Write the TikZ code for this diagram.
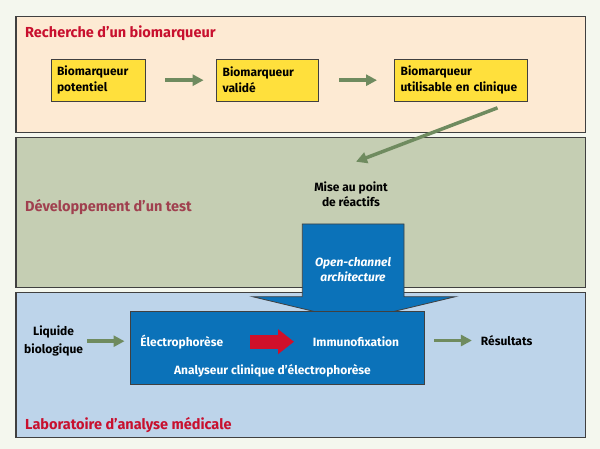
\documentclass[tikz,border=0pt]{standalone}
\usepackage{fontspec}
\setmainfont{Fira Sans}
\usetikzlibrary{arrows.meta}
\definecolor{bgc}{HTML}{F4F7EE}
\definecolor{peach}{HTML}{FDEAD3}
\definecolor{olive}{HTML}{C5CEB3}
\definecolor{lblue}{HTML}{BDD4EA}
\definecolor{ybox}{HTML}{FFE03C}
\definecolor{bblue}{HTML}{0B72B9}
\definecolor{garr}{HTML}{6F8B5F}
\definecolor{rarr}{HTML}{D0102A}
\definecolor{tred}{HTML}{C8102E}
\definecolor{tmaroon}{HTML}{A0404F}
\definecolor{bord}{HTML}{404040}
\begin{document}
\begin{tikzpicture}[x=1pt,y=-1pt,
  font=\bfseries\fontsize{12}{16}\selectfont,
  panel/.style={draw=bord, line width=1.2pt, anchor=north west, minimum width=569.7pt, inner sep=0pt},
  ptitle/.style={anchor=west, inner sep=0pt, font=\bfseries\fontsize{14.5}{16}\selectfont},
  yb/.style={draw=bord, fill=ybox, line width=1pt, minimum height=41.7pt, inner xsep=6pt, align=left},
  txt/.style={align=center, inner sep=0pt},
  wtxt/.style={txt, text=white},
  garrow/.style={draw=garr, line width=3.5pt, -{Triangle[length=11pt,width=11pt]}},
  rarrow/.style={draw=rarr, line width=14pt, -{Triangle[length=16pt,width=24pt]}}
]
\useasboundingbox[fill=bgc] (0,0) rectangle (600,449);
% panels
\node[panel, fill=peach, minimum height=116.6pt] (rech) at (15.3,15.7) {};
\node[panel, fill=olive, minimum height=150pt] (dev) at (15.3,136.7) {};
\node[panel, fill=lblue, minimum height=144.4pt] (lab) at (15.3,292.3) {};
% titles
\node[ptitle, text=tred] (t1) at (25,33.5) {Recherche d’un biomarqueur};
\node[ptitle, text=tmaroon] (t2) at (25,207) {Développement d’un test};
\node[ptitle, text=tred] (t3) at (25,425) {Laboratoire d’analyse médicale};
% yellow boxes
\node[yb, minimum width=94.4pt, text width=82.4pt] (b1) at (98.2,80.2) {Biomarqueur\\potentiel};
\node[yb, minimum width=102.2pt, text width=90.2pt] (b2) at (267.7,80.2) {Biomarqueur\\validé};
\node[yb, minimum width=132.8pt, text width=120.8pt] (b3) at (461,80.2) {Biomarqueur\\utilisable en clinique};
\draw[garrow, shorten <=66.8pt, shorten >=64.1pt] (b1.center) -- (b2.center);
\draw[garrow, shorten <=71.3pt, shorten >=84pt] (b2.center) -- (b3.center);
% mise au point
\node[txt, font=\bfseries\fontsize{12}{15}\selectfont] (mise) at (351,194.2) {Mise au point\\de réactifs};
\coordinate (dtip) at (356,161.7);
\draw[garrow, line cap=butt] ([shift={(36.5,6.3)}]b3.south) -- (dtip);
% big blue arrow
\filldraw[fill=bblue, draw=bord, line width=0.8pt] (302.3,224) -- (404,224) -- (404,296.7) -- (455.4,296.7) -- (354,321) -- (252.6,296.7) -- (302.3,296.7) -- cycle;
\node[wtxt, font=\bfseries\itshape\fontsize{12}{15}\selectfont] (och) at (353,269.2) {Open-channel\\architecture};
% analyser box
\node[draw=bord, fill=bblue, line width=1pt, minimum width=294.8pt, minimum height=73pt, inner sep=0pt] (ana) at (277.4,347.5) {};
\node[wtxt] (elec) at (181.8,341.7) {Électrophorèse};
\node[wtxt] (immu) at (356,341.7) {Immunofixation};
\node[wtxt] (analy) at (272.5,370.7) {Analyseur clinique d’électrophorèse};
\draw[rarrow, shorten <=68.2pt, shorten >=62pt] (elec.center) -- (immu.center);
% inputs and outputs
\node[txt, font=\bfseries\fontsize{12}{17.5}\selectfont] (liq) at (53.6,341.2) {Liquide\\biologique};
\node[txt] (res) at (506.7,340.5) {Résultats};
\draw[garrow, shorten <=33.7pt, shorten >=5pt] (liq.center) -- (liq.center -| ana.west);
\draw[garrow, shorten <=8.8pt, shorten >=34.8pt] (ana.east |- res.center) -- (res.center);
\end{tikzpicture}
\end{document}
